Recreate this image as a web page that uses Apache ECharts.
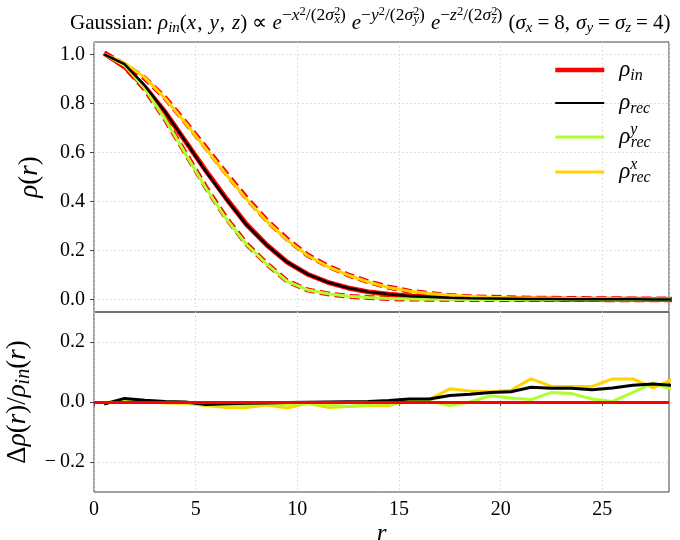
<!DOCTYPE html>
<html>
<head>
<meta charset="utf-8">
<script src="https://cdn.jsdelivr.net/npm/echarts@6/dist/echarts.min.js"></script>
<style>html,body{margin:0;padding:0;background:#fff;}#c{width:680px;height:540px;}</style>
</head>
<body>
<div id="c"></div>
<script>
// ---- data ----
const r = [0.5,1.5,2.5,3.5,4.5,5.5,6.5,7.5,8.5,9.5,10.5,11.5,12.5,13.5,14.5,15.5,16.5,17.5,18.5,19.5,20.5,21.5,22.5,23.5,24.5,25.5,26.5,27.5,28.5];

// top panel: density profiles
const rhoIn   = [1.005,0.950,0.866,0.764,0.645,0.526,0.413,0.307,0.223,0.153,0.104,0.071,0.048,0.032,0.022,0.015,0.011,0.008,0.006,0.005,0.004,0.003,0.003,0.002,0.002,0.002,0.002,0.001,0.001];
const rhoInX  = [1.005,0.958,0.902,0.822,0.723,0.620,0.515,0.415,0.323,0.247,0.182,0.137,0.101,0.073,0.051,0.035,0.025,0.017,0.012,0.010,0.008,0.006,0.006,0.005,0.004,0.004,0.003,0.003,0.003];
const rhoInY  = [1.005,0.950,0.857,0.735,0.597,0.459,0.333,0.227,0.146,0.076,0.040,0.024,0.014,0.009,0.005,0.003,0.002,0.002,0.001,0.001,0.001,0.001,0.001,0.001,0.001,0.000,0.000,0.000,0.000];
const rhoRec  = [1.000,0.960,0.872,0.765,0.645,0.522,0.410,0.305,0.222,0.153,0.104,0.071,0.048,0.032,0.022,0.015,0.011,0.008,0.006,0.005,0.004,0.003,0.003,0.002,0.002,0.002,0.002,0.001,0.001];
const rhoRecY = [1.000,0.955,0.860,0.735,0.595,0.455,0.330,0.225,0.145,0.075,0.040,0.024,0.014,0.009,0.005,0.003,0.002,0.002,0.001,0.001,0.001,0.001,0.001,0.001,0.001,0.000,0.000,0.000,0.000];
const rhoRecX = [1.000,0.965,0.905,0.820,0.720,0.615,0.510,0.410,0.320,0.243,0.180,0.135,0.100,0.072,0.050,0.035,0.025,0.018,0.013,0.010,0.008,0.007,0.006,0.005,0.004,0.004,0.003,0.003,0.003];

// bottom panel: relative residuals
const dRec  = [-0.007,0.012,0.006,0.002,0.000,-0.008,-0.006,-0.004,-0.003,-0.002,-0.001,0.000,0.001,0.002,0.005,0.010,0.010,0.022,0.026,0.032,0.034,0.049,0.046,0.046,0.041,0.047,0.056,0.060,0.055];
const dRecY = [-0.005,0.010,0.004,0.000,-0.003,-0.008,-0.010,-0.010,-0.006,-0.010,-0.003,-0.010,-0.014,-0.010,-0.007,0.000,0.003,-0.012,0.000,0.021,0.013,0.008,0.032,0.028,0.010,0.002,0.032,0.063,0.040];
const dRecX = [-0.004,0.008,0.003,-0.003,-0.004,-0.012,-0.018,-0.018,-0.010,-0.020,-0.004,-0.018,-0.015,-0.012,-0.012,0.006,0.009,0.044,0.037,0.034,0.039,0.077,0.052,0.052,0.052,0.077,0.077,0.047,0.077];

const xTicks = [0,5,10,15,20,25];
const yTicksTop = [0,0.2,0.4,0.6,0.8,1.0];
const yTicksBot = [-0.2,0,0.2];

// ---- styling helpers ----
const SERIF = 'Liberation Serif';
function rs(size, italic, raise, extra) {
  const pad = raise > 0 ? [0,0,2*raise,0] : [-2*raise,0,0,0];
  return Object.assign({fontFamily: SERIF, fontSize: size, fontStyle: italic ? 'italic' : 'normal',
    fontWeight: 'normal', color: '#000', verticalAlign: 'middle', padding: pad}, extra || {});
}
const pairs = (ys) => r.map((x, i) => [x, ys[i]]);

function expo(v) {
  return '{i|e}{e1|−}{ei|' + v + '}{e2|2}{e1|/(2}{ei|σ}{e2w|2}{es|' + v + '}{e1|)}{sp|}';
}
const titleStr = '{t|Gaussian: }{i|ρ}{sb|in}{t|(}{i|x}{c|,}{i|y}{c|,}{i|z}{t|) ∝ }' +
  expo('x') + expo('y') + expo('z') +
  '{t|(}{i|σ}{sb|x}{q|=}{t|8,}{c2|}{i|σ}{sb|y}{q|=}{i|σ}{sb|z}{q|=}{t|4)}';

const titleRich = {
  t: rs(21, false, 0), i: rs(21, true, 0), sb: rs(15, true, -5),
  c: rs(21, false, 0, {padding: [0, 7, 0, 1]}),
  q: rs(21, false, 0, {padding: [0, 5, 0, 5]}),
  c2: rs(21, false, 0, {width: 6}),
  e1: rs(17.5, false, 8), ei: rs(17.5, true, 8),
  e2: rs(12.5, false, 12), e2w: rs(12.5, false, 12, {width: 0.5}), es: rs(12.5, true, 4),
  sp: rs(21, false, 0, {width: 6})
};

const legendNames = {
  'ρin': '{g|ρ}{s|in}',
  'ρrec': '{g|ρ}{s|rec}',
  'ρyrec': '{g|ρ}{pw|y}{s|rec}',
  'ρxrec': '{g|ρ}{pw|x}{s|rec}'
};
const legendRich = {
  g: rs(23, true, 0, {lineHeight: 30, padding: [0,0,0,10]}),
  s: rs(16, true, -6, {lineHeight: 30}),
  pw: rs(16, true, 7, {lineHeight: 30, width: 0.5})
};

const axisLabelStyle = {fontFamily: SERIF, fontSize: 20, color: '#000'};
const splitLineStyle = {show: true, lineStyle: {color: '#d4d4d4', type: [1.5, 2.5], width: 1}};
const tickStyle = {show: true, length: 4, lineStyle: {color: '#444', width: 1}};

const RED = '#ff0000', BLACK = '#000000', GREEN = '#adff2f', GOLD = '#ffd400';

function line(name, ys, color, width, xi, dash, z) {
  return {
    name, type: 'line', xAxisIndex: xi, yAxisIndex: xi, data: pairs(ys),
    symbol: 'none', showSymbol: false, animation: false, z: z || 2,
    lineStyle: {color, width, type: dash || 'solid'}, itemStyle: {color},
    emphasis: {disabled: true}
  };
}

const chart = echarts.init(document.getElementById('c'), null, {renderer: 'canvas'});
chart.setOption({
  backgroundColor: '#fff',
  animation: false,
  title: {
    text: titleStr, left: 65, top: 0,
    textStyle: {rich: titleRich, fontFamily: SERIF, fontWeight: 'normal'}
  },
  legend: {
    orient: 'vertical', left: 548, top: 51, itemWidth: 49, itemHeight: 2, itemGap: 5,
    selectedMode: false, align: 'left',
    data: [
      {name: 'ρin', lineStyle: {width: 4.5, color: RED, type: 'solid'}},
      {name: 'ρrec', lineStyle: {width: 2.2, color: BLACK}},
      {name: 'ρyrec', lineStyle: {width: 3, color: GREEN}},
      {name: 'ρxrec', lineStyle: {width: 3, color: GOLD}}
    ],
    formatter: (n) => legendNames[n],
    textStyle: {rich: legendRich}
  },
  grid: [
    {left: 94, right: 11, top: 42, height: 270, show: true, borderColor: '#444', borderWidth: 1,
     backgroundColor: 'transparent', containLabel: false, outerBoundsMode: 'none'},
    {left: 94, right: 11, top: 312, height: 180, show: true, borderColor: '#444', borderWidth: 1,
     backgroundColor: 'transparent', containLabel: false, outerBoundsMode: 'none'}
  ],
  xAxis: [
    {type: 'value', gridIndex: 0, min: 0, max: 28.28, axisLine: {show: false},
     axisTick: {show: false}, axisLabel: {show: false}, splitLine: splitLineStyle},
    {type: 'value', gridIndex: 1, min: 0, max: 28.28, axisLine: {show: false},
     axisTick: Object.assign({customValues: xTicks}, tickStyle),
     axisLabel: Object.assign({customValues: xTicks, margin: 8, formatter: (v) => String(v)}, axisLabelStyle),
     splitLine: splitLineStyle,
     name: '{i|r}', nameLocation: 'middle', nameGap: 30,
     nameTextStyle: {rich: {i: rs(25, true, 0)}}}
  ],
  yAxis: [
    {type: 'value', gridIndex: 0, min: -0.05, max: 1.05, axisLine: {show: false},
     axisTick: Object.assign({customValues: yTicksTop}, tickStyle),
     axisLabel: Object.assign({customValues: yTicksTop, margin: 9, formatter: (v) => v.toFixed(1)}, axisLabelStyle),
     splitLine: splitLineStyle,
     name: '{i|ρ}{t|(}{i|r}{t|)}', nameLocation: 'middle', nameRotate: 90, nameGap: 51,
     nameTextStyle: {rich: {i: rs(27, true, 0), t: rs(27, false, 0)}}},
    {type: 'value', gridIndex: 1, min: -0.3, max: 0.3, splitNumber: 3, axisLine: {show: false},
     axisTick: Object.assign({customValues: yTicksBot}, tickStyle),
     axisLabel: Object.assign({customValues: yTicksBot, margin: 9,
       formatter: (v) => (Math.abs(v) < 1e-9 ? '0.0' : (v < 0 ? '−\u2009' : '') + Math.abs(v).toFixed(1))}, axisLabelStyle),
     splitLine: splitLineStyle,
     name: '{t|Δ}{i|ρ}{t|(}{i|r}{t|)/}{i|ρ}{sb|in}{t|(}{i|r}{t|)}', nameLocation: 'middle', nameRotate: 90, nameGap: 49,
     nameTextStyle: {rich: {i: rs(27, true, 0), t: rs(27, false, 0), sb: rs(20, true, -6)}}}
  ],
  series: [
    line('ρin_x', rhoInX, RED, 5, 0, [10, 5], 2),
    line('ρin_y', rhoInY, RED, 5, 0, [10, 5], 2),
    line('ρin', rhoIn, RED, 5, 0, 'solid', 2),
    line('ρxrec', rhoRecX, GOLD, 3, 0, 'solid', 3),
    line('ρyrec', rhoRecY, GREEN, 3, 0, 'solid', 3),
    line('ρrec', rhoRec, BLACK, 2.5, 0, 'solid', 4),
    Object.assign(line('Δx', dRecX, GOLD, 3, 1, 'solid', 3), {
      markLine: {silent: true, symbol: 'none', animation: false, label: {show: false},
        lineStyle: {color: RED, width: 3, type: 'solid'}, emphasis: {disabled: true},
        data: [{yAxis: 0}]}
    }),
    line('Δy', dRecY, GREEN, 3, 1, 'solid', 3),
    line('Δrec', dRec, BLACK, 3, 1, 'solid', 4)
  ]
});
</script>
</body>
</html>
